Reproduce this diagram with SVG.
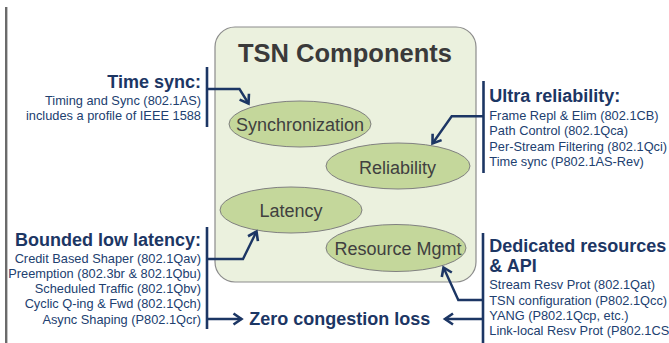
<svg xmlns="http://www.w3.org/2000/svg" width="669" height="343" viewBox="0 0 669 343">
<defs>
<style>
.head{font-family:"Liberation Sans",Arial,sans-serif;font-weight:bold;font-size:18px;fill:#1c3664}
.sub{font-family:"Liberation Sans",Arial,sans-serif;font-size:12.8px;fill:#21406f}
.lbl{font-family:"Liberation Sans",Arial,sans-serif;font-size:18px;fill:#404040;text-anchor:middle}
.ell{fill:#c4d79b;stroke:#808080;stroke-width:1}
.bar{stroke:#1c3664;stroke-width:2.6;fill:none}
.con{stroke:#1c3664;stroke-width:2.4;fill:none;marker-end:url(#ah)}
.r{text-anchor:end}
</style>
<marker id="ah" markerUnits="userSpaceOnUse" markerWidth="14" markerHeight="14" viewBox="-10 -7 12 14" refX="0" refY="0" orient="auto">
<path d="M-8,-5.5 L0,0 L-8,5.5" fill="none" stroke="#1c3664" stroke-width="2.6"/>
</marker>
</defs>
<rect x="0" y="0" width="669" height="343" fill="#ffffff"/>
<line x1="6.2" y1="7" x2="6.2" y2="343" stroke="#6b6b6b" stroke-width="2.4"/>
<g id="components">
<rect x="215" y="27" width="261" height="255" rx="20" ry="20" fill="#ebf1de" stroke="#8c8c8c" stroke-width="1.2"/>
<text x="345" y="62" text-anchor="middle" font-family="'Liberation Sans',Arial,sans-serif" font-weight="bold" font-size="25.5" fill="#3a3a3a">TSN Components</text>
</g>
<g id="synchronization">
<ellipse class="ell" cx="300" cy="124" rx="71" ry="23"/>
<text class="lbl" x="300" y="131">Synchronization</text>
</g>
<g id="reliability">
<ellipse class="ell" cx="398" cy="166" rx="72" ry="23"/>
<text class="lbl" x="397.5" y="174">Reliability</text>
</g>
<g id="latency">
<ellipse class="ell" cx="291" cy="210" rx="71" ry="23"/>
<text class="lbl" x="291" y="216.5">Latency</text>
</g>
<g id="resource-mgmt">
<ellipse class="ell" cx="396" cy="248" rx="70" ry="23.5"/>
<text class="lbl" x="398" y="255">Resource Mgmt</text>
</g>
<g id="time-sync">
<line class="bar" x1="207" y1="67" x2="207" y2="127"/>
<text class="head r" x="201" y="88">Time sync:</text>
<text class="sub r" x="201" y="105">Timing and Sync (802.1AS)</text>
<text class="sub r" x="201" y="120">includes a profile of IEEE 1588</text>
</g>
<g id="ultra-reliability">
<line class="bar" x1="483.5" y1="81" x2="483.5" y2="173"/>
<text class="head" x="489.3" y="101.7">Ultra reliability:</text>
<text class="sub" x="489.3" y="120">Frame Repl &amp; Elim (802.1CB)</text>
<text class="sub" x="489.3" y="135">Path Control (802.1Qca)</text>
<text class="sub" x="489.3" y="150.5">Per-Stream Filtering (802.1Qci)</text>
<text class="sub" x="489.3" y="165.5">Time sync (P802.1AS-Rev)</text>
</g>
<g id="bounded-low-latency">
<line class="bar" x1="207" y1="227" x2="207" y2="329"/>
<text class="head r" x="201" y="246">Bounded low latency:</text>
<text class="sub r" x="201" y="262.7">Credit Based Shaper (802.1Qav)</text>
<text class="sub r" x="201" y="277.7">Preemption (802.3br &amp; 802.1Qbu)</text>
<text class="sub r" x="201" y="293.3">Scheduled Traffic (802.1Qbv)</text>
<text class="sub r" x="201" y="308.3">Cyclic Q-ing &amp; Fwd (802.1Qch)</text>
<text class="sub r" x="201" y="324">Async Shaping (P802.1Qcr)</text>
</g>
<g id="dedicated-resources">
<line class="bar" x1="483" y1="233" x2="483" y2="343"/>
<text class="head" x="489.3" y="251.7">Dedicated resources</text>
<text class="head" x="489.3" y="271.7">&amp; API</text>
<text class="sub" x="489.3" y="289">Stream Resv Prot (802.1Qat)</text>
<text class="sub" x="489.3" y="304.5">TSN configuration (P802.1Qcc)</text>
<text class="sub" x="489.3" y="319.5">YANG (P802.1Qcp, etc.)</text>
<text class="sub" x="489.3" y="335">Link-local Resv Prot (P802.1CS</text>
</g>
<g id="zero-congestion-loss">
<text class="head" x="249.3" y="324.5">Zero congestion loss</text>
</g>
<g id="connectors">
<path class="con" d="M207,89 H239.5 L248.5,103.5"/>
<path class="con" d="M483.5,116.3 H451.7 L432.5,143.5"/>
<path class="con" d="M207,259 H243 L256.5,231.5"/>
<path class="con" d="M207,319 H241.5"/>
<path class="con" d="M483,319 H445"/>
<path class="con" d="M483,300 H458.3 L443.5,267.5"/>
</g>
</svg>
